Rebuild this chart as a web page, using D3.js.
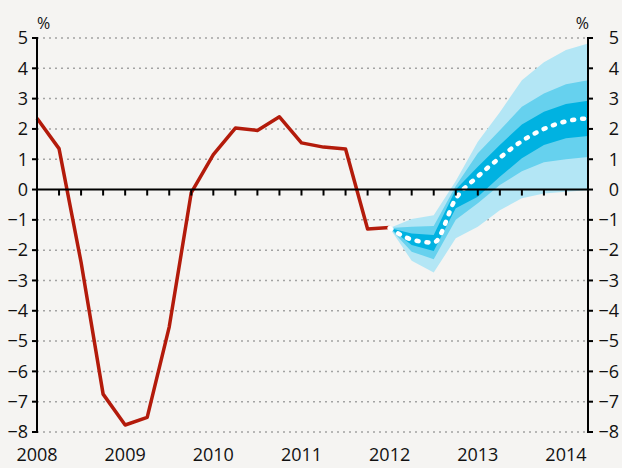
<!DOCTYPE html>
<html>
<head>
<meta charset="utf-8">
<script src="https://cdn.jsdelivr.net/npm/d3@7"></script>
<style>
  html, body { margin: 0; padding: 0; background: #f5f4f2; }
  #chart { width: 622px; height: 468px; }
  text { font-family: "Open Sans", sans-serif; fill: #111; }
</style>
</head>
<body>
<div id="chart"></div>
<script>
// quarterly history, 2008 Q1 .. 2012 Q1
var histQuarters = d3.range(0, 17).map(function(k){ return 2008 + k / 4; });
var histValues = [2.35, 1.35, -2.4, -6.75, -7.77, -7.52, -4.53, -0.1, 1.15, 2.03, 1.95, 2.4, 1.54, 1.4, 1.34, -1.3, -1.25];

// projection fan, 2012 Q1 .. 2014 Q2
var fanQuarters = d3.range(16, 26).map(function(k){ return 2008 + k / 4; });
var central  = [-1.27, -1.65, -1.75, -0.3, 0.43, 1.05, 1.6, 2.0, 2.25, 2.35];
var innerLo  = [-1.27, -1.83, -2.03, -0.62, -0.24, 0.42, 1.03, 1.47, 1.69, 1.77];
var innerHi  = [-1.27, -1.45, -1.5, 0.0, 0.75, 1.47, 2.15, 2.57, 2.82, 2.93];
var middleLo = [-1.27, -2.05, -2.3, -1.0, -0.45, 0.15, 0.6, 0.9, 1.0, 1.07];
var middleHi = [-1.27, -1.23, -1.2, 0.12, 1.2, 1.96, 2.73, 3.17, 3.47, 3.61];
var outerLo  = [-1.27, -2.35, -2.74, -1.61, -1.23, -0.68, -0.29, -0.13, -0.07, -0.02];
var outerHi  = [-1.27, -0.97, -0.85, 0.28, 1.58, 2.55, 3.61, 4.2, 4.6, 4.82];

var yearLabels = ["2008", "2009", "2010", "2011", "2012", "2013", "2014"];
var yTicks = d3.range(-8, 6);

var width = 622,
    height = 468,
    margin = {top: 38, right: 34, bottom: 36, left: 37};

var svg = d3.select("#chart").append("svg")
  .attr("width", width)
  .attr("height", height);

var x = d3.scaleLinear()
  .domain([2008, 2014.25])
  .range([margin.left, width - margin.right]);

var y = d3.scaleLinear()
  .domain([-8, 5])
  .range([height - margin.bottom, margin.top]);

// dotted grid
svg.append("g").selectAll("line")
  .data(yTicks.filter(function(d){ return d !== 0; }))
  .enter().append("line")
  .attr("x1", x.range()[0])
  .attr("x2", x.range()[1])
  .attr("y1", function(d){ return y(d); })
  .attr("y2", function(d){ return y(d); })
  .style("stroke", "#a3a3a3")
  .style("stroke-width", 1.5)
  .style("stroke-dasharray", "2,4");

// fan bands
var bands = [
  {lo: outerLo, hi: outerHi, fill: "#b3e6f5"},
  {lo: middleLo, hi: middleHi, fill: "#66d1ee"},
  {lo: innerLo, hi: innerHi, fill: "#00b2e1"}
];
var area = d3.area()
  .x(function(d){ return x(d.q); })
  .y0(function(d){ return y(d.lo); })
  .y1(function(d){ return y(d.hi); });

svg.append("g").selectAll("path")
  .data(bands)
  .enter().append("path")
  .attr("d", function(b){
    return area(fanQuarters.map(function(q, i){ return {q: q, lo: b.lo[i], hi: b.hi[i]}; }));
  })
  .attr("fill", function(b){ return b.fill; });

// history line
var line = d3.line()
  .x(function(d){ return x(d[0]); })
  .y(function(d){ return y(d[1]); });

svg.append("path")
  .attr("d", line(d3.zip(histQuarters, histValues)))
  .attr("fill", "none")
  .style("stroke", "#b31b0b")
  .style("stroke-width", 3.5)
  .style("stroke-linejoin", "round");

// central projection, white dots
svg.append("path")
  .attr("d", line.curve(d3.curveMonotoneX)(d3.zip(fanQuarters, central)))
  .attr("fill", "none")
  .style("stroke", "#fff")
  .style("stroke-width", 4.5)
  .style("stroke-linecap", "round")
  .style("stroke-dasharray", "2,8");

// zero line with quarter ticks
var axes = svg.append("g").style("stroke", "#000").style("stroke-width", 2);
axes.append("line")
  .attr("x1", x.range()[0]).attr("x2", x.range()[1])
  .attr("y1", y(0)).attr("y2", y(0));
axes.selectAll(".qtick")
  .data(d3.range(1, 25).map(function(k){ return 2008 + k / 4; }))
  .enter().append("line")
  .attr("class", "qtick")
  .attr("x1", function(d){ return x(d); })
  .attr("x2", function(d){ return x(d); })
  .attr("y1", y(0))
  .attr("y2", y(0) + 6);

// left and right axes
[x.range()[0], x.range()[1]].forEach(function(xp, side){
  var dir = side === 0 ? -1 : 1;
  axes.append("line")
    .attr("x1", xp).attr("x2", xp)
    .attr("y1", y(5) - 1).attr("y2", y(-8) + 1);
  axes.selectAll(".yt" + side)
    .data(yTicks)
    .enter().append("line")
    .attr("x1", xp)
    .attr("x2", xp + dir * 5)
    .attr("y1", function(d){ return y(d); })
    .attr("y2", function(d){ return y(d); });

  svg.append("g").selectAll("text")
    .data(yTicks)
    .enter().append("text")
    .attr("x", side === 0 ? 28 : 619)
    .attr("y", function(d){ return y(d); })
    .attr("dy", "0.35em")
    .attr("text-anchor", "end")
    .style("font-size", "18px")
    .text(function(d){ return d < 0 ? "\u2212" + Math.abs(d) : d; });
});

// units
svg.append("text").attr("x", 37).attr("y", 29).style("font-size", "16px").text("%");
svg.append("text").attr("x", 589).attr("y", 29).attr("text-anchor", "end").style("font-size", "16px").text("%");

// year labels
svg.append("g").selectAll("text")
  .data(yearLabels)
  .enter().append("text")
  .attr("x", function(d){ return x(+d); })
  .attr("y", 461)
  .attr("text-anchor", "middle")
  .style("font-size", "18px")
  .text(function(d){ return d; });
</script>
</body>
</html>
